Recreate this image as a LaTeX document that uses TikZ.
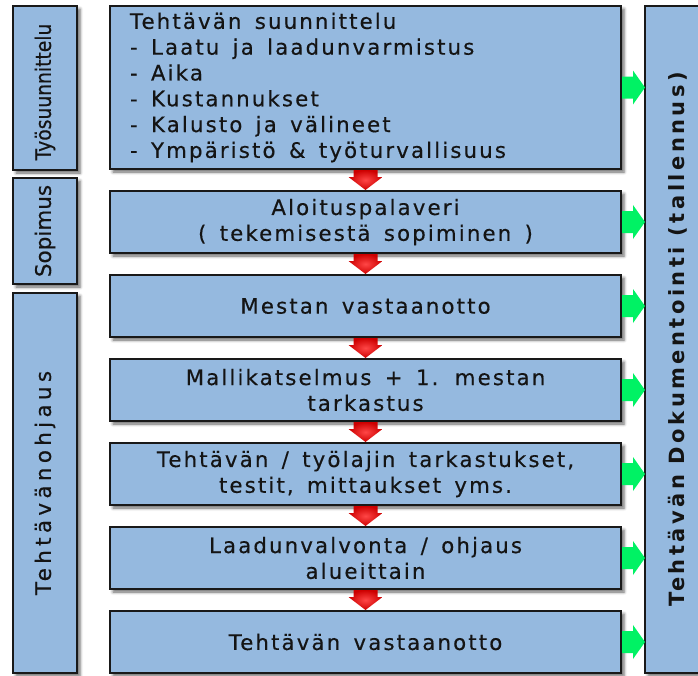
\documentclass[tikz,border=0pt]{standalone}
\usepackage{fontspec}
\usepackage{graphicx}
\setmainfont{DejaVu Sans}
\newfontfamily\boxfam{DejaVu Sans}[LetterSpace=10,WordSpace=1.5,FakeBold=0.4]
\newfontfamily\sidefam{DejaVu Sans}[FakeBold=0.4]
\newfontfamily\sidefamsp{DejaVu Sans}[FakeBold=0.4,LetterSpace=20]
\newfontfamily\docfam{DejaVu Sans Bold}[LetterSpace=16.5]
\usetikzlibrary{shadows.blur}
\definecolor{boxblue}{RGB}{149,185,223}
\definecolor{arrgreen}{RGB}{0,242,100}
\definecolor{txtcol}{RGB}{20,20,20}
\definecolor{redin}{RGB}{255,70,70}
\definecolor{redout}{RGB}{205,0,0}
\newcommand{\boxfont}{\boxfam\fontsize{21.3}{25.8}\selectfont}
\newcommand{\sidefont}{\sidefam\fontsize{21.5}{25}\selectfont}
\newcommand{\sidefontsp}{\sidefamsp\fontsize{21.5}{25}\selectfont}
\newcommand{\docfont}{\docfam\fontsize{21}{25}\selectfont}
\newcommand{\mkredarrow}[2]{\shade[redarr] ([xshift=-12pt,yshift=-1pt]#1.south) -- ([xshift=-12pt,yshift=-8pt]#1.south) -- ([xshift=-17pt,yshift=-8pt]#1.south) -- ([yshift=1pt]#2.north) -- ([xshift=17pt,yshift=-8pt]#1.south) -- ([xshift=12pt,yshift=-8pt]#1.south) -- ([xshift=12pt,yshift=-1pt]#1.south) -- cycle;}
\newcommand{\mkgreenarrow}[1]{\fill[arrgreen] ([xshift=1pt,yshift=11pt]#1.east) -- ([xshift=12pt,yshift=11pt]#1.east) -- ([xshift=12pt,yshift=17pt]#1.east) -- (doc.west |- #1.east) -- ([xshift=12pt,yshift=-17pt]#1.east) -- ([xshift=12pt,yshift=-11pt]#1.east) -- ([xshift=1pt,yshift=-11pt]#1.east) -- cycle;}
\begin{document}
\begin{tikzpicture}[x=1pt,y=-1pt,
  box/.style={draw=black!90, line width=1.3pt, fill=boxblue, inner sep=0pt, outer sep=0pt,
    anchor=north west, text=txtcol,
    blur shadow={shadow xshift=3pt, shadow yshift=-3pt, shadow blur radius=3pt, shadow opacity=60}},
  mainbox/.style={box, minimum width=511pt, minimum height=62pt, align=center, font=\boxfont},
  sidetext/.style={rotate=90, text=txtcol, inner sep=0pt},
  redarr/.style={inner color=redin, outer color=redout}]
\useasboundingbox (0,0) rectangle (698,675);
\clip (0,0) rectangle (698,675);

% left column
\node[box, minimum width=64pt, minimum height=164pt] (l1) at (13,6) {};
\node[box, minimum width=64pt, minimum height=106pt] (l2) at (13,178) {};
\node[box, minimum width=64pt, minimum height=380pt] (l3) at (13,293) {};
\node[sidetext, font=\sidefont] (t1) at ([yshift=-4pt]l1.center) {\scalebox{0.87}[1]{Työsuunnittelu}};
\node[sidetext, font=\sidefont] (t2) at (l2.center) {Sopimus};
\node[sidetext, font=\sidefontsp] (t3) at (l3.center) {Tehtävänohjaus};

% right column
\node[box, minimum width=66pt, minimum height=667pt] (doc) at (645,6) {};
\node[sidetext, font=\docfont] (tdoc) at (doc.center) {Tehtävän Dokumentointi (tallennus)};

% main boxes
\node[mainbox, minimum height=163pt, align=flush left, text width=471pt, inner xsep=20pt] (b1) at (110,6)
  {\spaceskip=0pt\xspaceskip=0pt\relax Tehtävän suunnittelu\\- Laatu ja laadunvarmistus\\- Aika\\- Kustannukset\\- Kalusto ja välineet\\- Ympäristö \& työturvallisuus};
\node[mainbox] (b2) at (110,191) {Aloituspalaveri\\( tekemisestä sopiminen )};
\node[mainbox] (b3) at (110,275) {Mestan vastaanotto};
\node[mainbox] (b4) at (110,359) {Mallikatselmus + 1. mestan\\tarkastus};
\node[mainbox] (b5) at (110,443) {Tehtävän / työlajin tarkastukset,\\testit, mittaukset yms.};
\node[mainbox] (b6) at (110,527) {Laadunvalvonta / ohjaus\\alueittain};
\node[mainbox] (b7) at (110,611) {Tehtävän vastaanotto};

% red arrows
\mkredarrow{b1}{b2}
\mkredarrow{b2}{b3}
\mkredarrow{b3}{b4}
\mkredarrow{b4}{b5}
\mkredarrow{b5}{b6}
\mkredarrow{b6}{b7}

% green arrows
\mkgreenarrow{b1}
\mkgreenarrow{b2}
\mkgreenarrow{b3}
\mkgreenarrow{b4}
\mkgreenarrow{b5}
\mkgreenarrow{b6}
\mkgreenarrow{b7}
\end{tikzpicture}
\end{document}
